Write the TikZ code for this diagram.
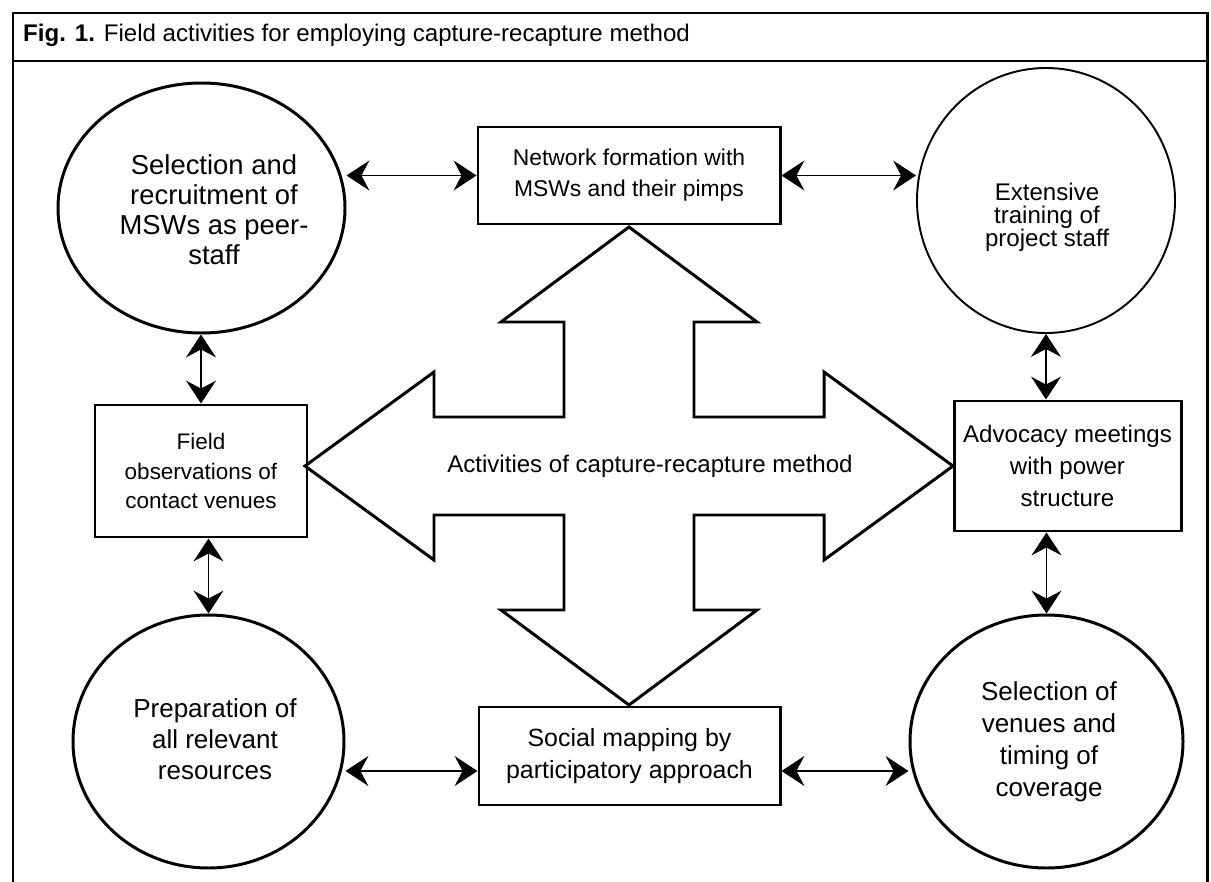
\documentclass[tikz,border=0pt]{standalone}
\usepackage{fontspec}
\setmainfont{Liberation Sans}
\usepackage{tikz}
\usetikzlibrary{arrows.meta,shapes.geometric}
\newcommand{\pxunit}{0.02cm}

\begin{document}
\begin{tikzpicture}[x=0.02cm, y=-0.02cm,
    ring/.style={ellipse, draw, line width=1.7pt, inner sep=0pt},
    ringtext/.style={align=center, inner sep=0pt},
    panel/.style={rectangle, draw, line width=1.7pt, inner sep=0pt, align=center},
    link/.style={<->, >={Stealth[length=13pt,width=17pt,inset=4.5pt]}, line width=1.1pt},
    frame/.style={line width=1.7pt}]

  \useasboundingbox (0,0) rectangle (1211,882);

  % -- outer frame and the caption bar; the frame runs off the bottom of the page
  \draw[frame] (13,882) -- (13,13) -- (1207,13) -- (1207,882);
  \draw[frame] (13,61) -- (1207,61);
  \node[anchor=base west, font=\fontsize{13.7}{15}\selectfont] (caption) at (17,42)
    {\textbf{Fig. 1.} Field activities for employing capture-recapture method};

  % -- the four circles in the corners; their text sits a little off centre
  \node[ring, minimum width=287*\pxunit, minimum height=250*\pxunit] (recruit) at (201.5,208) {};
  \node[ring, line width=1.1pt, minimum width=258*\pxunit, minimum height=265*\pxunit]
    (training) at (1046,200.5) {};
  \node[ring, minimum width=271*\pxunit, minimum height=253*\pxunit] (resources) at (208.5,741.5) {};
  \node[ring, minimum width=273*\pxunit, minimum height=253*\pxunit] (venues) at (1046.5,741.5) {};

  \node[ringtext, font=\fontsize{15.6}{17}\selectfont] (recruitText) at (214,210)
    {Selection and\\recruitment of\\MSWs as peer-\\staff};
  \node[ringtext, font=\fontsize{13.7}{13}\selectfont] (trainingText) at (1047,217)
    {Extensive\\training of\\project staff};
  \node[ringtext, font=\fontsize{14.8}{17.6}\selectfont] (resourcesText) at (215,739)
    {Preparation of\\all relevant\\resources};
  \node[ringtext, font=\fontsize{14.8}{18.2}\selectfont] (venuesText) at (1049,742)
    {Selection of\\venues and\\timing of\\coverage};

  % -- the four boxes between them
  \node[panel, minimum width=302*\pxunit, minimum height=97*\pxunit,
    font=\fontsize{13}{17.6}\selectfont] (network) at (629,175.5)
    {Network formation with\\MSWs and their pimps};
  \node[panel, minimum width=212*\pxunit, minimum height=132*\pxunit,
    font=\fontsize{12.8}{17}\selectfont] (fieldobs) at (201,471)
    {Field\\observations of\\contact venues};
  \node[panel, minimum width=227*\pxunit, minimum height=130*\pxunit,
    font=\fontsize{13.7}{18.2}\selectfont] (advocacy) at (1067.5,466)
    {Advocacy meetings\\with power\\structure};
  \node[panel, minimum width=301*\pxunit, minimum height=98*\pxunit,
    font=\fontsize{14.2}{18.2}\selectfont] (mapping) at (629.5,756)
    {Social mapping by\\participatory approach};

  % -- the big four-way arrow in the middle, drawn round from the top tip
  \begin{scope}[shift={(629,466)}]
    \draw[line width=1.7pt, line join=miter]
      (0,-239) -- (128,-144) -- (65,-144) -- (65,-49) -- (195,-49) -- (195,-94)
      -- (324,0) -- (195,94) -- (195,49) -- (65,49) -- (65,144) -- (128,144)
      -- (0,239) -- (-128,144) -- (-65,144) -- (-65,49) -- (-195,49) -- (-195,94)
      -- (-324,0) -- (-195,-94) -- (-195,-49) -- (-65,-49) -- (-65,-144)
      -- (-128,-144) -- cycle;
  \end{scope}
  \node[font=\fontsize{13.7}{16}\selectfont] (hub) at (650,466)
    {Activities of capture-recapture method};

  % -- two-headed links round the ring
  \draw[link] (recruit.east |- network.west) -- (network.west);
  \draw[link] (network.east) -- (network.east -| training.west);
  \draw[link] (fieldobs.north) -- (fieldobs.north |- recruit.south);
  \draw[link] (resources.north) -- (resources.north |- fieldobs.south);
  \draw[link] (training.south) -- (training.south |- advocacy.north);
  \draw[link] (venues.north) -- (venues.north |- advocacy.south);
  \coordinate (mapL) at ([yshift=-0.3cm]mapping.west);
  \coordinate (mapR) at ([yshift=-0.3cm]mapping.east);
  \draw[link] (mapL -| resources.east) -- (mapL);
  \draw[link] (mapR) -- (mapR -| venues.west);

\end{tikzpicture}
\end{document}
